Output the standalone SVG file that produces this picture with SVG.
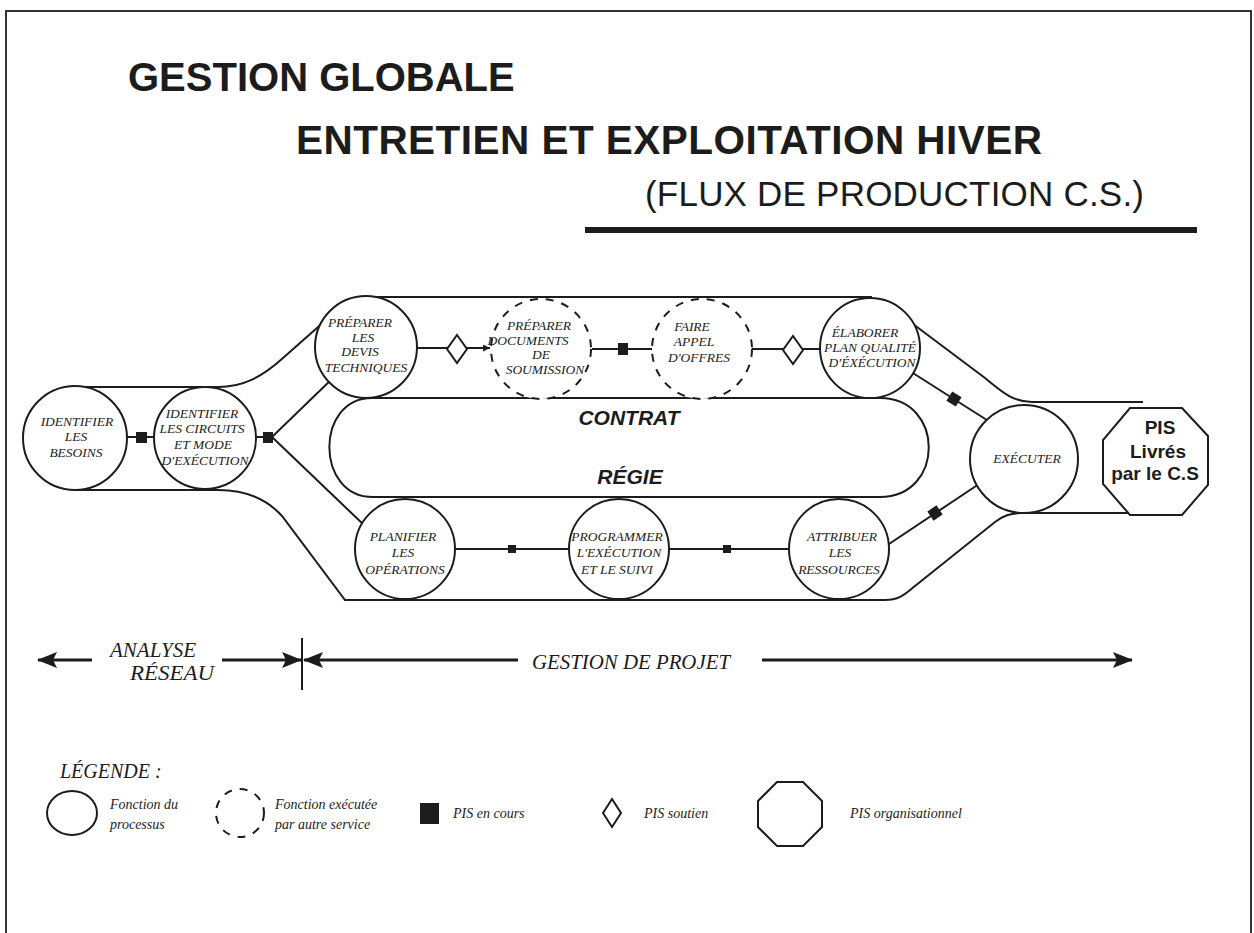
<svg xmlns="http://www.w3.org/2000/svg" width="1254" height="933" viewBox="0 0 1254 933">
<style>
.ln{fill:none;stroke:#1c1c1c;stroke-width:2}
.nd{fill:#fff;stroke:#1c1c1c;stroke-width:2}
.dash{fill:#fff;stroke:#1c1c1c;stroke-width:2;stroke-dasharray:8 8}
.t{font-family:"Liberation Serif","Times New Roman",serif;font-style:italic;font-size:13.5px;fill:#1c1c1c;text-anchor:middle}
.lg{font-family:"Liberation Serif","Times New Roman",serif;font-style:italic;font-size:14px;fill:#1c1c1c}
.ax{font-family:"Liberation Serif","Times New Roman",serif;font-style:italic;font-size:20px;fill:#1c1c1c}
.h{font-family:"Liberation Sans",Arial,sans-serif;font-weight:bold;fill:#1c1c1c}
.sq{fill:#1c1c1c}
.dm{fill:#fff;stroke:#1c1c1c;stroke-width:2}
.ar{fill:none;stroke:#1c1c1c;stroke-width:3}
</style>
<defs>
<marker id="ah" viewBox="0 0 20 16" refX="19" refY="8" markerWidth="20" markerHeight="16" orient="auto" markerUnits="userSpaceOnUse"><path d="M0,0 L20,8 L0,16 L4,8 Z" fill="#1c1c1c"/></marker>
<marker id="sm" viewBox="0 0 8 8" refX="8" refY="4" markerWidth="7" markerHeight="7" orient="auto" markerUnits="userSpaceOnUse"><path d="M0,0 L8,4 L0,8 Z" fill="#1c1c1c"/></marker>
</defs>
<rect width="1254" height="933" fill="#fff"/>
<rect x="6" y="11" width="1245" height="940" fill="none" stroke="#333" stroke-width="2"/>

<g id="titles">
<text class="h" x="128" y="91" font-size="40">GESTION GLOBALE</text>
<text class="h" x="296" y="154" font-size="40.5" textLength="746" lengthAdjust="spacing">ENTRETIEN ET EXPLOITATION HIVER</text>
<text x="645" y="206" font-family="Liberation Sans, Arial, sans-serif" font-size="35" fill="#1c1c1c" textLength="499" lengthAdjust="spacing">(FLUX DE PRODUCTION C.S.)</text>
<rect x="585" y="227" width="612" height="6" fill="#1c1c1c"/>
</g>

<g id="connectors">
<path class="ln" d="M75,387 L218,387 C243,387 262,377 283,358 L335,312"/>
<path class="ln" d="M360,297 L872,297"/>
<path class="ln" d="M905,318 L985,378 C1000,390 1012,402 1032,402 L1143,402"/>
<path class="ln" d="M372,398 L880,398 C945,398 945,497 880,497 L373,497 C315,497 315,398 372,398 Z"/>
<path class="ln" d="M75,490 L218,490 C243,490 265,497 282,516 L345,600 L885,600 C900,600 905,594 915,586 L995,522 C1003,516 1010,513 1022,513 L1158,513"/>
<path class="ln" d="M127,437 L160,437"/>
<rect class="sq" x="136" y="432" width="11" height="11"/>
<path class="ln" d="M250,437 L272,437 L335,376 M272,437 L365,526"/>
<rect class="sq" x="263" y="432" width="10" height="11"/>
<path class="ln" d="M415,348 L490,348" marker-end="url(#sm)"/>
<polygon class="dm" points="457,335 467,349 457,363 447,349"/>
<path class="ln" d="M592,349 L652,349"/>
<rect class="sq" x="618" y="343" width="10" height="12"/>
<path class="ln" d="M752,349 L825,349"/>
<polygon class="dm" points="793,336 803,350 793,364 783,350"/>
<path class="ln" d="M905,368 L990,422"/>
<rect class="sq" x="-5.5" y="-5.5" width="11" height="11" transform="translate(954,399) rotate(32)"/>
<path class="ln" d="M880,550 L985,480"/>
<rect class="sq" x="-5.5" y="-5.5" width="11" height="11" transform="translate(935,513) rotate(-34)"/>
<path class="ln" d="M450,549 L575,549 M665,549 L795,549"/>
<rect class="sq" x="508" y="545" width="8" height="8"/>
<rect class="sq" x="723" y="545" width="8" height="8"/>
</g>

<g id="band-labels">
<text class="h" x="629" y="425" font-size="21" font-style="italic" text-anchor="middle">CONTRAT</text>
<text class="h" x="630" y="484" font-size="21" font-style="italic" text-anchor="middle">RÉGIE</text>
</g>

<g id="n-besoins">
<circle class="nd" cx="75" cy="438" r="52"/>
<text class="t"><tspan x="77" y="426">IDENTIFIER</tspan><tspan x="76" y="441">LES</tspan><tspan x="76" y="457">BESOINS</tspan></text>
</g>
<g id="n-circuits">
<circle class="nd" cx="205" cy="438" r="51"/>
<text class="t"><tspan x="202" y="418">IDENTIFIER</tspan><tspan x="202" y="433">LES CIRCUITS</tspan><tspan x="203" y="449">ET MODE</tspan><tspan x="205" y="465">D'EXÉCUTION</tspan></text>
</g>
<g id="n-devis">
<circle class="nd" cx="366" cy="347" r="51"/>
<text class="t"><tspan x="360" y="327">PRÉPARER</tspan><tspan x="363" y="342">LES</tspan><tspan x="360" y="356">DEVIS</tspan><tspan x="366" y="372">TECHNIQUES</tspan></text>
</g>
<g id="n-documents">
<circle class="dash" cx="541" cy="349" r="50"/>
<text class="t"><tspan x="539" y="330">PRÉPARER</tspan><tspan x="528" y="345">DOCUMENTS</tspan><tspan x="541" y="359">DE</tspan><tspan x="545" y="374">SOUMISSION</tspan></text>
</g>
<g id="n-offres">
<circle class="dash" cx="702" cy="349" r="50"/>
<text class="t"><tspan x="692" y="331">FAIRE</tspan><tspan x="694" y="346">APPEL</tspan><tspan x="699" y="362">D'OFFRES</tspan></text>
</g>
<g id="n-plan">
<circle class="nd" cx="870" cy="348" r="50"/>
<text class="t"><tspan x="865" y="337">ÉLABORER</tspan><tspan x="870" y="352">PLAN QUALITÉ</tspan><tspan x="872" y="367">D'ÉXÉCUTION</tspan></text>
</g>
<g id="n-executer">
<circle class="nd" cx="1024" cy="459" r="54"/>
<text class="t" x="1027" y="463">EXÉCUTER</text>
</g>
<g id="n-pis">
<polygon class="nd" points="1130,408 1182,408 1208,436 1208,485 1182,515 1130,515 1103,484 1103,440"/>
<text class="h" font-size="19" text-anchor="middle"><tspan x="1160" y="434">PIS</tspan><tspan x="1158" y="458">Livrés</tspan><tspan x="1155" y="480">par le C.S</tspan></text>
</g>
<g id="n-planifier">
<circle class="nd" cx="405" cy="549" r="50"/>
<text class="t"><tspan x="403" y="541">PLANIFIER</tspan><tspan x="403" y="557">LES</tspan><tspan x="405" y="574">OPÉRATIONS</tspan></text>
</g>
<g id="n-programmer">
<circle class="nd" cx="619" cy="549" r="50"/>
<text class="t"><tspan x="617" y="541">PROGRAMMER</tspan><tspan x="619" y="557">L'EXÉCUTION</tspan><tspan x="617" y="574">ET LE SUIVI</tspan></text>
</g>
<g id="n-attribuer">
<circle class="nd" cx="839" cy="549" r="50"/>
<text class="t"><tspan x="842" y="541">ATTRIBUER</tspan><tspan x="840" y="557">LES</tspan><tspan x="839" y="574">RESSOURCES</tspan></text>
</g>

<g id="scale">
<path class="ar" d="M92,660 L38,660" marker-end="url(#ah)"/>
<path class="ar" d="M222,660 L301,660" marker-end="url(#ah)"/>
<path class="ar" d="M518,660 L304,660" marker-end="url(#ah)"/>
<path class="ar" d="M762,660 L1132,660" marker-end="url(#ah)"/>
<path class="ln" d="M302,638 L302,690" stroke-width="1.5"/>
<text class="ax" x="110" y="657" textLength="86" lengthAdjust="spacingAndGlyphs">ANALYSE</text>
<text class="ax" x="130" y="680" textLength="84" lengthAdjust="spacingAndGlyphs">RÉSEAU</text>
<text class="ax" x="532" y="669" textLength="198" lengthAdjust="spacingAndGlyphs">GESTION DE PROJET</text>
</g>

<g id="legend">
<text class="ax" x="60" y="778" font-size="21">LÉGENDE :</text>
<ellipse class="nd" cx="72" cy="813" rx="25" ry="22"/>
<text class="lg"><tspan x="110" y="809">Fonction du</tspan><tspan x="110" y="829">processus</tspan></text>
<circle class="dash" cx="240" cy="813" r="24" stroke-dasharray="7 9"/>
<text class="lg"><tspan x="275" y="809">Fonction exécutée</tspan><tspan x="275" y="829">par autre service</tspan></text>
<rect class="sq" x="420" y="803" width="19" height="21"/>
<text class="lg" x="453" y="818">PIS en cours</text>
<polygon class="dm" points="612,799 621,813 612,827 603,813"/>
<text class="lg" x="644" y="818">PIS soutien</text>
<polygon class="nd" points="777,782 803,782 822,801 822,827 803,846 777,846 758,827 758,801"/>
<text class="lg" x="850" y="818">PIS organisationnel</text>
</g>
</svg>
